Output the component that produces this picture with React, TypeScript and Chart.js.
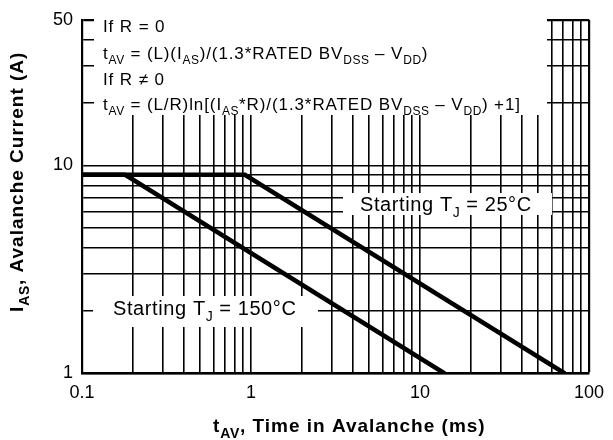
import React, { useEffect, useRef } from 'react';
import { Chart, registerables } from 'chart.js';

Chart.register(...registerables);

// ---- data ----
const tj150Time = [0.1, 0.18, 14];
const tj150Current = [9, 9, 1];
const tj25Time = [0.1, 0.92, 72];
const tj25Current = [9, 9, 1];

const xTickValues = [0.1, 0.2, 0.3, 0.4, 0.5, 0.6, 0.7, 0.8, 0.9, 1, 2, 3, 4, 5, 6, 7, 8, 9, 10, 20, 30, 40, 50, 60, 70, 80, 90, 100];
const yTickValues = [1, 2, 3, 4, 5, 6, 7, 8, 9, 10, 20, 30, 40, 50];
const xTickLabels = [0.1, 1, 10, 100];
const yTickLabels = [1, 10, 50];

const FONT = "'Liberation Sans', Arial, Helvetica, sans-serif";

type Seg = [string, boolean?];

function drawRich(ctx: CanvasRenderingContext2D, x: number, y: number, segs: Seg[], size: number, weight: string, spacing: number) {
  let cx = x;
  const anyCtx = ctx as any;
  for (const [t, sub] of segs) {
    const fs = sub ? Math.round(size * 0.72) : size;
    ctx.font = `${weight} ${fs}px ${FONT}`;
    anyCtx.letterSpacing = `${sub ? spacing * 0.6 : spacing}px`;
    ctx.fillText(t, cx, sub ? y + size * 0.3 : y);
    cx += ctx.measureText(t).width;
  }
  anyCtx.letterSpacing = '0px';
  return cx - x;
}

const overlayPlugin = {
  id: 'overlay',
  beforeDatasetsDraw(chart: any) {
    const ctx: CanvasRenderingContext2D = chart.ctx;
    ctx.save();
    ctx.fillStyle = '#fff';
    // white boxes behind annotation texts
    ctx.fillRect(94, 18, 453, 97);
    ctx.fillRect(343, 193, 209, 22);
    ctx.fillRect(93, 296, 225, 31);
    ctx.fillStyle = '#000';
    ctx.textBaseline = 'alphabetic';
    ctx.textAlign = 'left';
    const s = 17;
    const sp = 0.9;
    drawRich(ctx, 103, 32, [['If R = 0']], s, 'normal', sp);
    drawRich(ctx, 103, 59, [['t'], ['AV', true], [' = (L)(I'], ['AS', true], [')/(1.3*RATED BV'], ['DSS', true], [' \u2013 V'], ['DD', true], [')']], s, 'normal', sp);
    drawRich(ctx, 103, 85, [['If R \u2260 0']], s, 'normal', sp);
    drawRich(ctx, 103, 110, [['t'], ['AV', true], [' = (L/R)ln[(I'], ['AS', true], ['*R)/(1.3*RATED BV'], ['DSS', true], [' \u2013 V'], ['DD', true], [') +1]']], s, 'normal', sp);
    const s2 = 20;
    drawRich(ctx, 360, 211, [['Starting T'], ['J', true], [' = 25\u00B0C']], s2, 'normal', 0.6);
    drawRich(ctx, 113, 315, [['Starting T'], ['J', true], [' = 150\u00B0C']], s2, 'normal', 0.6);
    ctx.restore();
  },
  afterDraw(chart: any) {
    const ctx: CanvasRenderingContext2D = chart.ctx;
    ctx.save();
    ctx.fillStyle = '#000';
    ctx.textBaseline = 'alphabetic';
    ctx.textAlign = 'left';
    drawRich(ctx, 213, 432, [['t'], ['AV', true], [', Time in Avalanche (ms)']], 19, 'bold', 1.0);
    ctx.translate(23, 312);
    ctx.rotate(-Math.PI / 2);
    drawRich(ctx, 0, 0, [['I'], ['AS', true], [', Avalanche Current (A)']], 19, 'bold', 1.0);
    ctx.restore();
  },
};

export default function App() {
  const canvasRef = useRef<HTMLCanvasElement>(null);

  useEffect(() => {
    const canvas = canvasRef.current;
    if (!canvas) return;
    const gridWidth = (last: number) => (c: any) => (c.index === last ? 2.2 : 1.6);
    const chart = new Chart(canvas, {
      type: 'line',
      data: {
        datasets: [
          {
            label: 'Starting TJ = 150°C',
            data: tj150Time.map((t, i) => ({ x: t, y: tj150Current[i] })),
            borderColor: '#000',
            borderWidth: 4.5,
            pointRadius: 0,
            tension: 0,
          },
          {
            label: 'Starting TJ = 25°C',
            data: tj25Time.map((t, i) => ({ x: t, y: tj25Current[i] })),
            borderColor: '#000',
            borderWidth: 4.5,
            pointRadius: 0,
            tension: 0,
          },
        ],
      },
      options: {
        responsive: false,
        animation: false,
        layout: { padding: { top: 9, right: 20, left: 0, bottom: 0 } },
        plugins: { legend: { display: false }, tooltip: { enabled: false } },
        scales: {
          x: {
            type: 'logarithmic',
            min: 0.1,
            max: 100,
            afterBuildTicks: (scale: any) => {
              scale.ticks = xTickValues.map((v) => ({ value: v }));
            },
            afterFit: (scale: any) => {
              scale.height = 66.5;
            },
            ticks: {
              autoSkip: false,
              maxRotation: 0,
              minRotation: 0,
              padding: 9,
              color: '#000',
              font: { family: FONT, size: 18 },
              callback: (v: any) => (xTickLabels.includes(Number(v)) ? String(v) : ''),
            },
            grid: {
              color: '#000',
              lineWidth: gridWidth(xTickValues.length - 1),
              drawTicks: false,
            },
            border: { color: '#000', width: 2.2 },
          },
          y: {
            type: 'logarithmic',
            min: 1,
            max: 50,
            afterBuildTicks: (scale: any) => {
              scale.ticks = yTickValues.map((v) => ({ value: v }));
            },
            afterFit: (scale: any) => {
              scale.width = 82;
            },
            ticks: {
              autoSkip: false,
              padding: 9,
              color: '#000',
              font: { family: FONT, size: 18 },
              callback: (v: any) => (yTickLabels.includes(Number(v)) ? String(v) : ''),
            },
            grid: {
              color: '#000',
              lineWidth: gridWidth(yTickValues.length - 1),
              drawTicks: false,
            },
            border: { color: '#000', width: 2.2 },
          },
        },
      },
      plugins: [overlayPlugin],
    });
    return () => chart.destroy();
  }, []);

  return (
    <div style={{ position: 'fixed', left: 0, top: 0, width: 613, height: 440, background: '#fff' }}>
      <canvas ref={canvasRef} width={613} height={440} style={{ display: 'block' }} />
    </div>
  );
}
